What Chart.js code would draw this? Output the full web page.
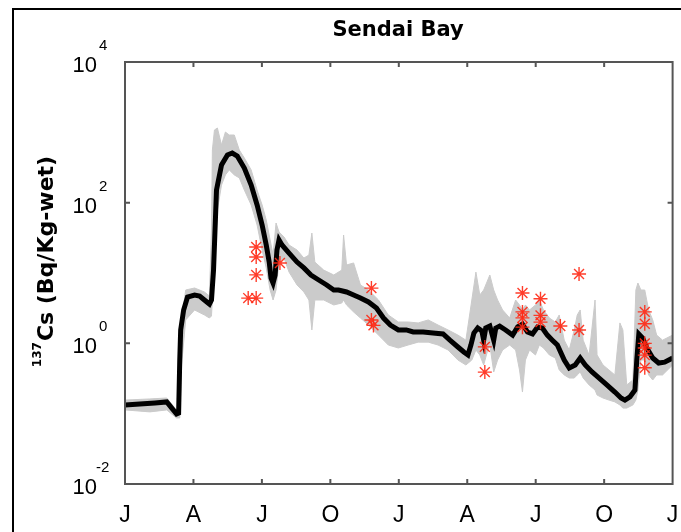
<!DOCTYPE html>
<html>
<head>
<meta charset="UTF-8">
<title>Sendai Bay</title>
<script src="https://cdn.jsdelivr.net/npm/chart.js"></script>
<style>
  html, body { margin: 0; padding: 0; background: #fff; }
  #wrap { width: 681px; height: 532px; }
</style>
</head>
<body>
<div id="wrap"><canvas id="myChart" width="681" height="532"></canvas></div>
<script>
// months since January of the first year (0..24)
const monthTickLabels = ['J', 'A', 'J', 'O', 'J', 'A', 'J', 'O', 'J'];
const decadeTicks = [-2, 0, 2, 4];

// model mean (black line)
const lineMonths = [0,0.65,1.31,1.83,2.05,2.26,2.35,2.40,2.44,2.57,
  2.74,3.05,3.27,3.48,3.70,3.79,3.88,4.01,4.23,4.49,
  4.70,4.92,5.23,5.53,5.79,6.01,6.19,6.32,6.40,6.49,
  6.58,6.66,6.75,6.88,7.19,7.54,7.84,8.15,8.49,8.84,
  9.15,9.36,9.71,10.02,10.32,10.67,11.02,11.33,11.63,11.98,
  12.33,12.63,13.07,13.50,13.94,14.24,14.59,14.85,15.03,15.16,
  15.29,15.46,15.64,15.72,15.81,15.99,16.16,16.25,16.42,16.68,
  16.99,17.21,17.42,17.64,17.86,18.08,18.29,18.51,18.73,18.95,
  19.25,19.47,19.73,19.95,20.17,20.47,20.78,21.13,21.47,21.74,
  21.91,22.13,22.35,22.43,22.52,22.69,22.87,23.13,23.39,23.65,
  24.00];
const lineValues = [0.133,0.137,0.142,0.147,0.120,0.099,0.102,0.58,1.55,2.98,
  4.56,4.87,4.71,4.13,3.62,4.13,11.0,151,343,477,
  508,461,311,178,92.6,48.1,25.0,14.3,8.49,7.21,
  9.37,21.2,29.5,25.0,19.2,14.3,11.8,9.37,7.95,6.75,
  5.73,5.73,5.37,4.87,4.42,3.87,3.18,2.29,1.82,1.55,
  1.55,1.45,1.45,1.40,1.36,1.11,0.887,0.753,0.683,0.946,
  1.40,1.65,1.50,1.11,1.65,1.76,1.11,1.65,1.76,1.55,
  1.31,1.71,1.88,1.45,1.36,1.71,1.65,1.31,1.11,0.946,
  0.58,0.446,0.492,0.618,0.492,0.391,0.321,0.255,0.203,0.167,
  0.156,0.173,0.217,0.58,1.36,1.19,0.859,0.618,0.525,0.54,
  0.618];

// spread of the ensemble (grey band)
const bandMonths = [0,1.09,1.83,2.26,2.35,2.40,2.48,2.66,3.05,3.48,
  3.70,3.79,3.83,3.92,4.05,4.23,4.40,4.57,4.79,5.01,
  5.23,5.53,5.79,6.01,6.19,6.36,6.49,6.62,6.75,6.97,
  7.19,7.54,7.84,8.06,8.19,8.32,8.71,9.15,9.50,9.58,
  9.71,10.02,10.32,10.67,11.11,11.54,11.98,12.41,12.85,13.29,
  13.72,14.16,14.59,14.94,15.20,15.38,15.55,15.72,15.90,15.99,
  16.16,16.33,16.55,16.86,17.12,17.29,17.42,17.55,17.73,17.99,
  18.16,18.34,18.60,18.86,19.03,19.25,19.47,19.69,19.82,19.95,
  20.08,20.34,20.60,20.69,20.95,21.21,21.47,21.69,21.82,21.99,
  22.26,22.39,22.48,22.61,22.78,22.95,23.13,23.30,23.56,24.00];
const bandHigh = [0.156,0.162,0.167,0.113,0.120,0.683,2.15,5.73,6.12,5.37,
  4.71,40.8,561,1079,1153,660,1009,916,916,561,
  432,292,151,92.6,56.7,29.5,18.0,51.4,38.3,32.5,
  25.0,21.2,16.3,18.0,37.0,14.3,11.0,9.37,11.0,34.7,
  13.0,13.9,6.75,5.73,4.13,2.53,2.01,2.01,1.95,2.15,
  1.82,1.55,1.31,1.11,4.13,10.3,4.87,5.73,7.95,9.37,
  5.73,4.13,2.98,2.29,4.13,3.51,2.98,3.51,2.98,3.51,
  4.13,2.98,2.29,2.01,2.53,1.11,0.804,1.55,2.53,2.98,
  1.11,0.683,4.13,0.683,0.492,0.418,0.355,1.95,1.55,0.256,
  0.301,5.73,7.21,5.73,5.73,2.98,2.15,1.31,1.11,1.31];
const bandLow = [0.113,0.106,0.113,0.0868,0.0868,0.0868,0.492,2.15,2.98,2.53,
  2.29,2.45,4.13,11.0,78.7,178,248,292,248,225,
  151,92.6,48.1,21.2,11.8,5.73,4.13,5.73,14.3,16.3,
  10.3,6.75,5.37,4.13,1.55,4.13,4.13,3.51,3.74,4.13,
  3.51,2.79,2.29,1.82,1.31,0.946,0.859,0.946,1.04,1.04,
  0.946,0.804,0.579,0.492,0.579,0.804,0.683,0.492,0.804,0.946,
  0.391,0.579,0.804,0.946,0.804,0.418,0.203,0.579,0.804,0.683,
  0.946,0.859,0.683,0.618,0.418,0.355,0.321,0.321,0.355,0.391,
  0.321,0.256,0.217,0.184,0.167,0.156,0.147,0.133,0.120,0.120,
  0.133,0.156,0.217,0.579,0.579,0.355,0.301,0.355,0.355,0.492];

// observations (red asterisks)
const obsMonths = [5.75,5.75,5.75,5.75,5.40,6.79,10.80,10.80,10.89,15.77,
  15.77,17.42,17.42,17.42,17.42,18.21,18.21,18.21,19.08,19.90,
  19.90,22.78,22.78,22.78,22.78,22.78,22.78];
const obsValues = [23.4,16.9,9.4,4.4,4.4,13.9,6.1,2.15,1.8,0.89,
  0.39,5.2,2.8,2.3,1.7,4.3,2.5,2.0,1.76,9.7,
  1.55,2.8,1.9,1.0,0.86,0.68,0.45];

const pts = (xs, ys) => xs.map((x, i) => ({ x: x, y: ys[i] }));

// frame, ticks, labels and titles drawn MATLAB style
const decorations = {
  id: 'decorations',
  afterDraw(chart) {
    const ctx = chart.ctx;
    const a = chart.chartArea;
    const xs = chart.scales.x;
    const ys = chart.scales.y;
    ctx.save();

    // outer figure frame
    ctx.strokeStyle = '#000';
    ctx.lineWidth = 2;
    ctx.strokeRect(13, 9, 720, 600);

    // plot box
    ctx.strokeStyle = '#555';
    ctx.lineWidth = 2;
    ctx.strokeRect(a.left, a.top, a.right - a.left, a.bottom - a.top);

    // inward ticks
    ctx.beginPath();
    for (let m = 3; m < 24; m += 3) {
      const px = xs.getPixelForValue(m);
      ctx.moveTo(px, a.bottom); ctx.lineTo(px, a.bottom - 5);
      ctx.moveTo(px, a.top); ctx.lineTo(px, a.top + 5);
    }
    decadeTicks.forEach(d => {
      const py = ys.getPixelForValue(Math.pow(10, d));
      ctx.moveTo(a.left, py); ctx.lineTo(a.left + 5, py);
      ctx.moveTo(a.right, py); ctx.lineTo(a.right - 5, py);
    });
    ctx.stroke();

    ctx.fillStyle = '#000';

    // x tick labels
    ctx.font = '23px "Liberation Sans", Arial, sans-serif';
    ctx.textAlign = 'center';
    ctx.textBaseline = 'middle';
    monthTickLabels.forEach((t, i) => {
      ctx.fillText(t, xs.getPixelForValue(i * 3), 516);
    });

    // y tick labels 10^n
    decadeTicks.forEach(d => {
      const py = ys.getPixelForValue(Math.pow(10, d));
      ctx.font = '22px "Liberation Sans", Arial, sans-serif';
      ctx.textAlign = 'right';
      ctx.fillText('10', 97, py + 4);
      ctx.font = '15px "Liberation Sans", Arial, sans-serif';
      ctx.textAlign = 'left';
      ctx.fillText(String(d), d < 0 ? 96 : 99, py - 16);
    });

    // title
    ctx.font = 'bold 21px "DejaVu Sans", sans-serif';
    ctx.textAlign = 'center';
    ctx.fillText('Sendai Bay', 398, 31);

    // y axis title with superscript
    ctx.translate(45, 262);
    ctx.rotate(-Math.PI / 2);
    const main = 'Cs (Bq/Kg-wet)';
    ctx.font = 'bold 12px "DejaVu Sans", sans-serif';
    const wSup = ctx.measureText('137').width;
    ctx.font = 'bold 22px "DejaVu Sans", sans-serif';
    const wMain = ctx.measureText(main).width;
    const x0 = -(wSup + wMain) / 2;
    ctx.textAlign = 'left';
    ctx.textBaseline = 'alphabetic';
    ctx.fillText(main, x0 + wSup + 1, 8);
    ctx.font = 'bold 12px "DejaVu Sans", sans-serif';
    ctx.fillText('137', x0, -4);

    ctx.restore();
  }
};

new Chart(document.getElementById('myChart'), {
  type: 'line',
  data: {
    datasets: [
      {
        label: 'observations',
        type: 'scatter',
        data: pts(obsMonths, obsValues),
        pointStyle: 'star',
        pointRadius: 7,
        pointBorderWidth: 1.4,
        borderColor: 'rgba(255, 40, 20, 0.9)',
        backgroundColor: 'rgba(255, 40, 20, 0.9)',
        order: 0
      },
      {
        label: 'mean',
        data: pts(lineMonths, lineValues),
        borderColor: '#000',
        borderWidth: 5,
        pointRadius: 0,
        tension: 0,
        fill: false,
        order: 1
      },
      {
        label: 'band high',
        data: pts(bandMonths, bandHigh),
        borderColor: '#cbcbcb',
        borderWidth: 1,
        backgroundColor: '#cbcbcb',
        pointRadius: 0,
        tension: 0,
        fill: false,
        order: 2
      },
      {
        label: 'band low',
        data: pts(bandMonths, bandLow),
        borderColor: '#cbcbcb',
        borderWidth: 1,
        backgroundColor: '#cbcbcb',
        pointRadius: 0,
        tension: 0,
        fill: 2,
        order: 3
      }
    ]
  },
  options: {
    responsive: false,
    animation: false,
    events: [],
    layout: { padding: { top: 62, right: 5, left: 0, bottom: 0 } },
    plugins: {
      legend: { display: false },
      tooltip: { enabled: false },
      title: { display: false }
    },
    scales: {
      x: {
        type: 'linear',
        min: 0,
        max: 24,
        grid: { display: false },
        border: { display: false },
        ticks: { display: false },
        afterFit: s => { s.height = 48; }
      },
      y: {
        type: 'logarithmic',
        min: 0.01,
        max: 10000,
        grid: { display: false },
        border: { display: false },
        ticks: { display: false },
        afterFit: s => { s.width = 125; }
      }
    }
  },
  plugins: [decorations]
});
</script>
</body>
</html>
